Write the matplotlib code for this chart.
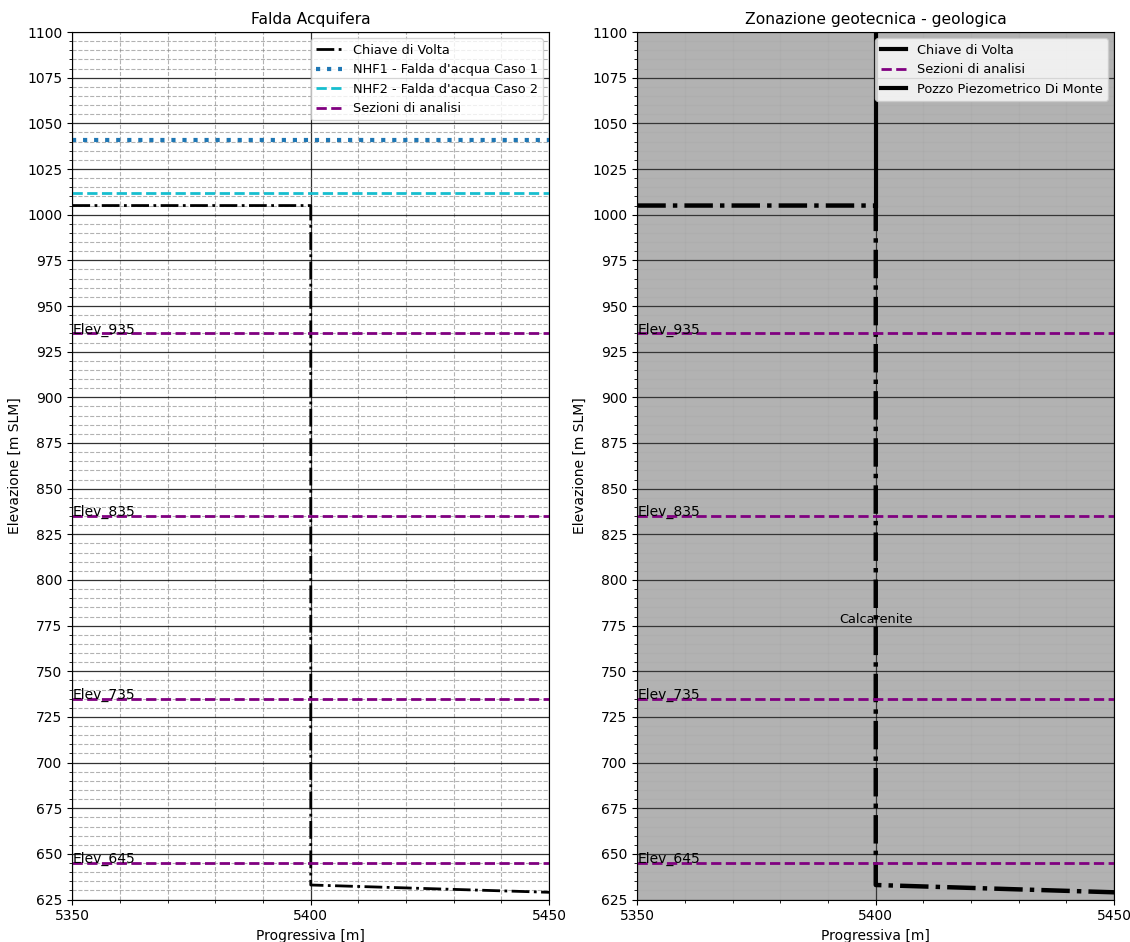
import matplotlib
matplotlib.use("Agg")
import matplotlib.pyplot as plt
from matplotlib.lines import Line2D
from matplotlib.ticker import MultipleLocator

# dati
chiave_x = [5350, 5400, 5400, 5450]
chiave_y = [1005, 1005, 633, 629]
nhf1 = 1041
nhf2 = 1012
sezioni = [935, 835, 735, 645]
pozzo_x = [5400, 5400]
pozzo_y = [1005, 1100]
xlim = (5350, 5450)
ylim = (625, 1100)


def setup(ax, title):
    ax.set_xlim(*xlim)
    ax.set_ylim(*ylim)
    ax.set_xticks([5350, 5400, 5450])
    ax.xaxis.set_minor_locator(MultipleLocator(10))
    ax.yaxis.set_major_locator(MultipleLocator(25))
    ax.yaxis.set_minor_locator(MultipleLocator(5))
    ax.set_title(title, fontsize=11.2)
    ax.set_xlabel('Progressiva [m]')
    ax.set_ylabel('Elevazione [m SLM]')


fig = plt.figure(figsize=(11.3, 9.42), dpi=100)
ax1 = fig.add_axes([0.064, 0.045, 0.422, 0.921])
ax2 = fig.add_axes([0.564, 0.045, 0.422, 0.921])

# --- Falda Acquifera
setup(ax1, 'Falda Acquifera')
ax1.grid(which='major', color='black', linewidth=0.9, alpha=0.8)
ax1.grid(which='minor', color='gray', linestyle='--', linewidth=0.8, alpha=0.6)
ax1.plot(chiave_x, chiave_y, color='black', linestyle='-.', linewidth=2, label='Chiave di Volta')
ax1.axhline(nhf1, color='tab:blue', linestyle=':', linewidth=3, label="NHF1 - Falda d'acqua Caso 1")
ax1.axhline(nhf2, color='tab:cyan', linestyle='--', linewidth=2, label="NHF2 - Falda d'acqua Caso 2")
for i, s in enumerate(sezioni):
    ax1.axhline(s, color='purple', linestyle='--', linewidth=2,
                label='Sezioni di analisi' if i == 0 else None)
    ax1.text(xlim[0], s, 'Elev_' + str(s), fontsize=10)
ax1.legend(loc='upper right', fontsize=9.3)

# --- Zonazione geotecnica - geologica
setup(ax2, 'Zonazione geotecnica - geologica')
ax2.fill_between(xlim, ylim[0], ylim[1], color='gray', alpha=0.6, linewidth=0)
ax2.grid(which='major', color='black', linewidth=0.9, alpha=0.7)
ax2.grid(which='minor', color='gray', linewidth=0.8, alpha=0.08)
ax2.plot(chiave_x, chiave_y, color='black', linestyle='-.', linewidth=3.2)
ax2.plot(pozzo_x, pozzo_y, color='black', linewidth=3)
for s in sezioni:
    ax2.axhline(s, color='purple', linestyle='--', linewidth=2)
    ax2.text(xlim[0], s, 'Elev_' + str(s), fontsize=10)
ax2.text(5400, 775, 'Calcarenite', ha='center', va='bottom', fontsize=9.3)
handles = [Line2D([], [], color='black', linewidth=3),
           Line2D([], [], color='purple', linestyle='--', linewidth=2),
           Line2D([], [], color='black', linewidth=3)]
ax2.legend(handles, ['Chiave di Volta', 'Sezioni di analisi', 'Pozzo Piezometrico Di Monte'],
           loc='upper right', fontsize=9.3)

fig.savefig('out.png', dpi=100)
